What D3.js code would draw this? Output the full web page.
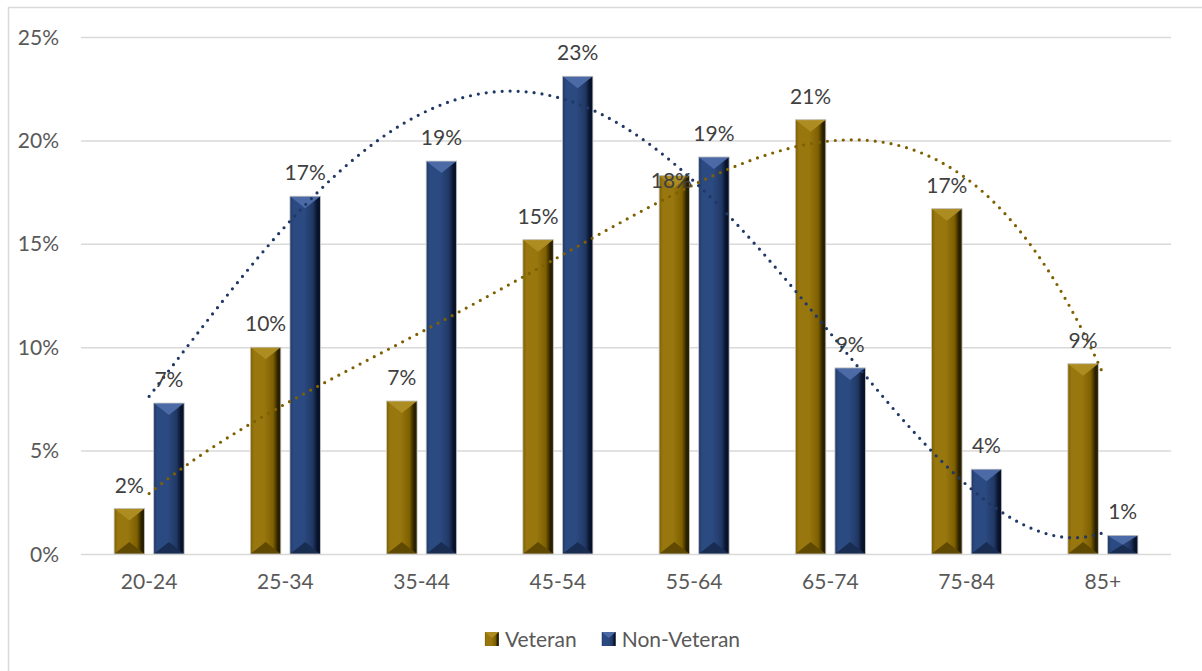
<!DOCTYPE html>
<html>
<head>
<meta charset="utf-8">
<script src="https://cdn.jsdelivr.net/npm/d3@7"></script>
<style>
  html, body { margin: 0; padding: 0; background: #fff; }
  svg { display: block; font-family: Lato, "Open Sans", sans-serif; }
</style>
</head>
<body>
<svg id="chart" width="1202" height="671"></svg>
<script>
// ---- data ----
const categories = ["20-24", "25-34", "35-44", "45-54", "55-64", "65-74", "75-84", "85+"];
const seriesNames = ["Veteran", "Non-Veteran"];
const veteran = [0.022, 0.100, 0.074, 0.152, 0.183, 0.210, 0.167, 0.092];
const nonVeteran = [0.073, 0.173, 0.190, 0.231, 0.192, 0.090, 0.041, 0.009];
const yTicks = [0, 0.05, 0.10, 0.15, 0.20, 0.25];

const values = { "Veteran": veteran, "Non-Veteran": nonVeteran };
const palette = {
    "Veteran":     { base: "#7f6000", light: "#98770f", hi: "#ad8c22", dark: "#2a2000", bot: "#604900" },
    "Non-Veteran": { base: "#203864", light: "#2c4a82", hi: "#4b6aa6", dark: "#08122a", bot: "#192d52" }
};
const fontSize = 21;

const svg = d3.select("#chart");
const defs = svg.append("defs");

// chart area border
svg.append("rect")
    .attr("x", 8.5).attr("y", 7.5)
    .attr("width", 1210).attr("height", 680)
    .attr("fill", "none").attr("stroke", "#d9d9d9").attr("stroke-width", 1.5);

const x0 = d3.scaleBand().domain(categories).range([81, 1171]).padding(0);
const bw = x0.bandwidth();
const x1 = d3.scaleBand().domain(seriesNames)
    .range([bw * 0.243, bw * 0.757])
    .paddingInner(0.23);
const y = d3.scaleLinear().domain([0, 0.25]).range([554, 37]);

// gridlines
svg.append("g")
    .attr("transform", "translate(81,0)")
    .call(d3.axisLeft(y).tickValues(yTicks).tickSize(-1090).tickFormat(""))
    .call(g => g.select(".domain").remove())
    .call(g => g.selectAll("line").attr("stroke", "#d9d9d9").attr("stroke-width", 1.5));

// y labels
svg.append("g")
    .selectAll("text")
    .data(yTicks)
    .join("text")
    .attr("x", 59)
    .attr("y", d => y(d))
    .attr("dy", "0.36em")
    .attr("text-anchor", "end")
    .attr("font-size", fontSize)
    .attr("fill", "#595959")
    .text(d3.format(".0%"));

// x labels
svg.append("g")
    .attr("transform", "translate(0,554)")
    .call(d3.axisBottom(x0).tickSize(0).tickPadding(0))
    .call(g => g.select(".domain").remove())
    .call(g => g.selectAll("text")
        .attr("y", 35)
        .attr("dy", "0")
        .attr("font-size", fontSize)
        .attr("font-family", "Lato, 'Open Sans', sans-serif")
        .attr("fill", "#595959"));

// gradients for bevelled bars
seriesNames.forEach((s, i) => {
    const c = palette[s];
    const g = defs.append("linearGradient").attr("id", "grad" + i)
        .attr("x1", "0").attr("x2", "1").attr("y1", "0").attr("y2", "0");
    g.append("stop").attr("offset", "0").attr("stop-color", c.base);
    g.append("stop").attr("offset", "0.12").attr("stop-color", c.light);
    g.append("stop").attr("offset", "0.45").attr("stop-color", c.light);
    g.append("stop").attr("offset", "0.75").attr("stop-color", c.base);
    g.append("stop").attr("offset", "0.9").attr("stop-color", c.dark);
    g.append("stop").attr("offset", "1").attr("stop-color", c.dark);
});

const bars = [];
categories.forEach((cat, ci) => {
    seriesNames.forEach((s, si) => {
        bars.push({ cat, s, si, v: values[s][ci] });
    });
});

svg.append("g").selectAll("g")
    .data(bars)
    .join("g")
    .each(function (d) {
        const g = d3.select(this);
        const c = palette[d.s];
        const xl = x0(d.cat) + x1(d.s);
        const w = x1.bandwidth();
        const yt = y(d.v);
        const yb = y(0);
        const h = Math.min(12, (yb - yt) / 2);
        const xc = xl + w / 2;
        g.append("rect")
            .attr("x", xl).attr("y", yt)
            .attr("width", w).attr("height", yb - yt)
            .attr("fill", `url(#grad${d.si})`);
        g.append("polygon")
            .attr("points", [[xl, yt], [xl + w, yt], [xc, yt + h]].join(" "))
            .attr("fill", c.hi);
        g.append("polygon")
            .attr("points", [[xl, yb], [xl + w, yb], [xc, yb - h]].join(" "))
            .attr("fill", c.bot);
        g.append("rect")
            .attr("x", xl).attr("y", yt)
            .attr("width", w).attr("height", yb - yt)
            .attr("fill", "none").attr("stroke", "#c8c8c8").attr("stroke-width", 0.8);
    });

// polynomial trendlines (order 4, least squares like Excel)
function polyfit(xs, ys, order) {
    const n = order + 1;
    const A = Array.from({ length: n }, () => new Array(n + 1).fill(0));
    for (let r = 0; r < n; r++) {
        for (let c = 0; c < n; c++) A[r][c] = d3.sum(xs, x => Math.pow(x, r + c));
        A[r][n] = d3.sum(xs, (x, i) => ys[i] * Math.pow(x, r));
    }
    for (let i = 0; i < n; i++) {
        let p = i;
        for (let k = i + 1; k < n; k++) if (Math.abs(A[k][i]) > Math.abs(A[p][i])) p = k;
        [A[i], A[p]] = [A[p], A[i]];
        for (let k = i + 1; k < n; k++) {
            const f = A[k][i] / A[i][i];
            for (let j = i; j <= n; j++) A[k][j] -= f * A[i][j];
        }
    }
    const coef = new Array(n).fill(0);
    for (let i = n - 1; i >= 0; i--) {
        let s = A[i][n];
        for (let j = i + 1; j < n; j++) s -= A[i][j] * coef[j];
        coef[i] = s / A[i][i];
    }
    return t => coef.reduce((acc, a, k) => acc + a * Math.pow(t, k), 0);
}

const xt = d3.scaleLinear()
    .domain([1, categories.length])
    .range([x0(categories[0]) + bw / 2, x0(categories[categories.length - 1]) + bw / 2]);
const idx = categories.map((_, i) => i + 1);

seriesNames.forEach(s => {
    const f = polyfit(idx, values[s], 4);
    const pts = d3.range(1, categories.length + 0.001, 0.05).map(t => [t, f(t)]);
    svg.append("path")
        .datum(pts)
        .attr("fill", "none")
        .attr("stroke", palette[s].base)
        .attr("stroke-width", 3.2)
        .attr("stroke-linecap", "round")
        .attr("stroke-dasharray", "0 8")
        .attr("d", d3.line().x(d => xt(d[0])).y(d => y(d[1])));
});

// data labels
const nudge = { "55-64|Veteran": [-3, 28] }; // label pushed down in the original
svg.append("g").selectAll("text")
    .data(bars)
    .join("text")
    .attr("x", d => x0(d.cat) + x1(d.s) + x1.bandwidth() / 2 + (nudge[d.cat + "|" + d.s] || [0, 0])[0])
    .attr("y", d => y(d.v) - 16 + (nudge[d.cat + "|" + d.s] || [0, 0])[1])
    .attr("text-anchor", "middle")
    .attr("font-size", fontSize)
    .attr("fill", "#404040")
    .text(d => d3.format(".0%")(d.v));

// legend
const legend = svg.append("g");
let lx = 0;
seriesNames.forEach((s, i) => {
    const g = legend.append("g").attr("transform", `translate(${lx},0)`);
    g.append("rect").attr("x", 0).attr("y", -7).attr("width", 14).attr("height", 14)
        .attr("fill", `url(#grad${i})`);
    g.append("polygon").attr("points", "0,-7 14,-7 7,-1").attr("fill", palette[s].hi);
    const t = g.append("text").attr("x", 20).attr("y", 7.5)
        .attr("font-size", fontSize).attr("fill", "#595959").text(s);
    lx += 20 + t.node().getComputedTextLength() + 25;
});
const lw = lx - 25;
legend.attr("transform", `translate(${612.5 - lw / 2},639)`);
</script>
</body>
</html>
